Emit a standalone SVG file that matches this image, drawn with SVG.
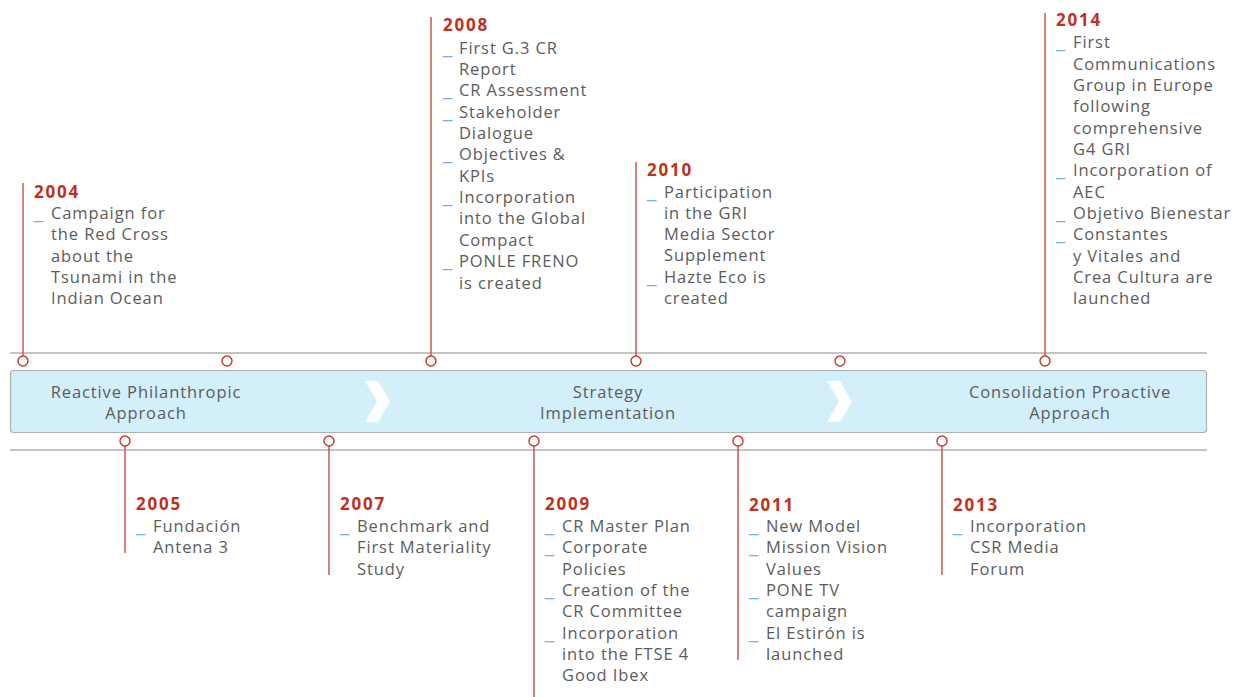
<svg xmlns="http://www.w3.org/2000/svg" width="1233" height="697" viewBox="0 0 1233 697">
<style>
.yr{font-family:"Open Sans","Liberation Sans",sans-serif;font-weight:700;font-size:17px;fill:#c0311c;letter-spacing:1.8px}
.tx{font-family:"Open Sans","Liberation Sans",sans-serif;font-size:16.5px;fill:#5c5c5c;letter-spacing:0.9px}
.bl{font-family:"Liberation Sans",sans-serif;font-size:16.5px;fill:#79aee0}
.band{font-family:"Open Sans","Liberation Sans",sans-serif;font-size:16.5px;fill:#5c5c5c;letter-spacing:0.9px;text-anchor:middle}
.stem{stroke:#cc5a4a;stroke-width:1.5;fill:none}
.dot{stroke:#c0392b;stroke-width:1.4;fill:#ffffff}
.rule{stroke:#c4c4c4;stroke-width:2}
.chev{fill:#ffffff}
</style>
<rect width="1233" height="697" fill="#ffffff"/>
<g id="timeline">
<line class="rule" x1="10" y1="353" x2="1207" y2="353"/>
<line class="rule" x1="10" y1="450" x2="1207" y2="450"/>
<rect x="10.5" y="370.5" width="1196" height="62" rx="3" fill="#d2effa" stroke="#b0b0b0" stroke-width="1.2"/>
<polygon class="chev" points="365,381 378,381 390,401.5 378,422 365,422 377,401.5"/>
<polygon class="chev" points="827,381 840,381 852,401.5 840,422 827,422 839,401.5"/>
</g>
<g id="phase1"><text class="band" x="146" y="398">Reactive Philanthropic</text><text class="band" x="146" y="419">Approach</text></g>
<g id="phase2"><text class="band" x="608" y="398">Strategy</text><text class="band" x="608" y="419">Implementation</text></g>
<g id="phase3"><text class="band" x="1070" y="398">Consolidation Proactive</text><text class="band" x="1070" y="419">Approach</text></g>
<g id="connectors">
<line class="stem" x1="23" y1="183" x2="23" y2="356"/>
<line class="stem" x1="431" y1="17" x2="431" y2="356"/>
<line class="stem" x1="636" y1="162" x2="636" y2="356"/>
<line class="stem" x1="1045" y1="13" x2="1045" y2="356"/>
<line class="stem" x1="125" y1="446" x2="125" y2="553"/>
<line class="stem" x1="329" y1="446" x2="329" y2="575"/>
<line class="stem" x1="534" y1="446" x2="534" y2="697"/>
<line class="stem" x1="738" y1="446" x2="738" y2="660"/>
<line class="stem" x1="942" y1="446" x2="942" y2="575"/>
<circle class="dot" cx="23" cy="361" r="5"/>
<circle class="dot" cx="227" cy="361" r="5"/>
<circle class="dot" cx="431" cy="361" r="5"/>
<circle class="dot" cx="636" cy="361" r="5"/>
<circle class="dot" cx="840" cy="361" r="5"/>
<circle class="dot" cx="1045" cy="361" r="5"/>
<circle class="dot" cx="125" cy="441" r="5"/>
<circle class="dot" cx="329" cy="441" r="5"/>
<circle class="dot" cx="534" cy="441" r="5"/>
<circle class="dot" cx="738" cy="441" r="5"/>
<circle class="dot" cx="942" cy="441" r="5"/>
</g>
<g id="y2004">
<text class="yr" x="34" y="198">2004</text>
<text class="bl" x="34" y="219">_</text>
<text class="tx" x="51"><tspan x="51" y="219">Campaign for</tspan><tspan x="51" y="240">the Red Cross</tspan><tspan x="51" y="262">about the</tspan><tspan x="51" y="283">Tsunami in the</tspan><tspan x="51" y="304">Indian Ocean</tspan></text>
</g>
<g id="y2008">
<text class="yr" x="443" y="31">2008</text>
<text class="bl" x="443" y="54">_</text><text class="bl" x="443" y="96">_</text><text class="bl" x="443" y="118">_</text><text class="bl" x="443" y="160">_</text><text class="bl" x="443" y="203">_</text><text class="bl" x="443" y="267">_</text>
<text class="tx"><tspan x="459" y="54">First G.3 CR</tspan><tspan x="459" y="75">Report</tspan><tspan x="459" y="96">CR Assessment</tspan><tspan x="459" y="118">Stakeholder</tspan><tspan x="459" y="139">Dialogue</tspan><tspan x="459" y="160">Objectives &amp;</tspan><tspan x="459" y="182">KPIs</tspan><tspan x="459" y="203">Incorporation</tspan><tspan x="459" y="224">into the Global</tspan><tspan x="459" y="246">Compact</tspan><tspan x="459" y="267">PONLE FRENO</tspan><tspan x="459" y="289">is created</tspan></text>
</g>
<g id="y2010">
<text class="yr" x="647" y="176">2010</text>
<text class="bl" x="647" y="198">_</text><text class="bl" x="647" y="283">_</text>
<text class="tx"><tspan x="664" y="198">Participation</tspan><tspan x="664" y="219">in the GRI</tspan><tspan x="664" y="240">Media Sector</tspan><tspan x="664" y="261">Supplement</tspan><tspan x="664" y="283">Hazte Eco is</tspan><tspan x="664" y="304">created</tspan></text>
</g>
<g id="y2014">
<text class="yr" x="1056" y="26">2014</text>
<text class="bl" x="1056" y="48">_</text><text class="bl" x="1056" y="176">_</text><text class="bl" x="1056" y="219">_</text><text class="bl" x="1056" y="240">_</text>
<text class="tx"><tspan x="1073" y="48">First</tspan><tspan x="1073" y="70">Communications</tspan><tspan x="1073" y="91">Group in Europe</tspan><tspan x="1073" y="112">following</tspan><tspan x="1073" y="134">comprehensive</tspan><tspan x="1073" y="155">G4 GRI</tspan><tspan x="1073" y="176">Incorporation of</tspan><tspan x="1073" y="198">AEC</tspan><tspan x="1073" y="219">Objetivo Bienestar</tspan><tspan x="1073" y="240">Constantes</tspan><tspan x="1073" y="262">y Vitales and</tspan><tspan x="1073" y="283">Crea Cultura are</tspan><tspan x="1073" y="304">launched</tspan></text>
</g>
<g id="y2005">
<text class="yr" x="136" y="510">2005</text>
<text class="bl" x="136" y="532">_</text>
<text class="tx"><tspan x="153" y="532">Fundación</tspan><tspan x="153" y="553">Antena 3</tspan></text>
</g>
<g id="y2007">
<text class="yr" x="340" y="510">2007</text>
<text class="bl" x="340" y="532">_</text>
<text class="tx"><tspan x="357" y="532">Benchmark and</tspan><tspan x="357" y="553">First Materiality</tspan><tspan x="357" y="575">Study</tspan></text>
</g>
<g id="y2009">
<text class="yr" x="545" y="510">2009</text>
<text class="bl" x="545" y="532">_</text><text class="bl" x="545" y="553">_</text><text class="bl" x="545" y="596">_</text><text class="bl" x="545" y="639">_</text>
<text class="tx"><tspan x="562" y="532">CR Master Plan</tspan><tspan x="562" y="553">Corporate</tspan><tspan x="562" y="575">Policies</tspan><tspan x="562" y="596">Creation of the</tspan><tspan x="562" y="617">CR Committee</tspan><tspan x="562" y="639">Incorporation</tspan><tspan x="562" y="660">into the FTSE 4</tspan><tspan x="562" y="681">Good Ibex</tspan></text>
</g>
<g id="y2011">
<text class="yr" x="749" y="511">2011</text>
<text class="bl" x="749" y="532">_</text><text class="bl" x="749" y="553">_</text><text class="bl" x="749" y="596">_</text><text class="bl" x="749" y="639">_</text>
<text class="tx"><tspan x="766" y="532">New Model</tspan><tspan x="766" y="553">Mission Vision</tspan><tspan x="766" y="575">Values</tspan><tspan x="766" y="596">PONE TV</tspan><tspan x="766" y="617">campaign</tspan><tspan x="766" y="639">El Estirón is</tspan><tspan x="766" y="660">launched</tspan></text>
</g>
<g id="y2013">
<text class="yr" x="953" y="511">2013</text>
<text class="bl" x="953" y="532">_</text>
<text class="tx"><tspan x="970" y="532">Incorporation</tspan><tspan x="970" y="553">CSR Media</tspan><tspan x="970" y="575">Forum</tspan></text>
</g>
</svg>
